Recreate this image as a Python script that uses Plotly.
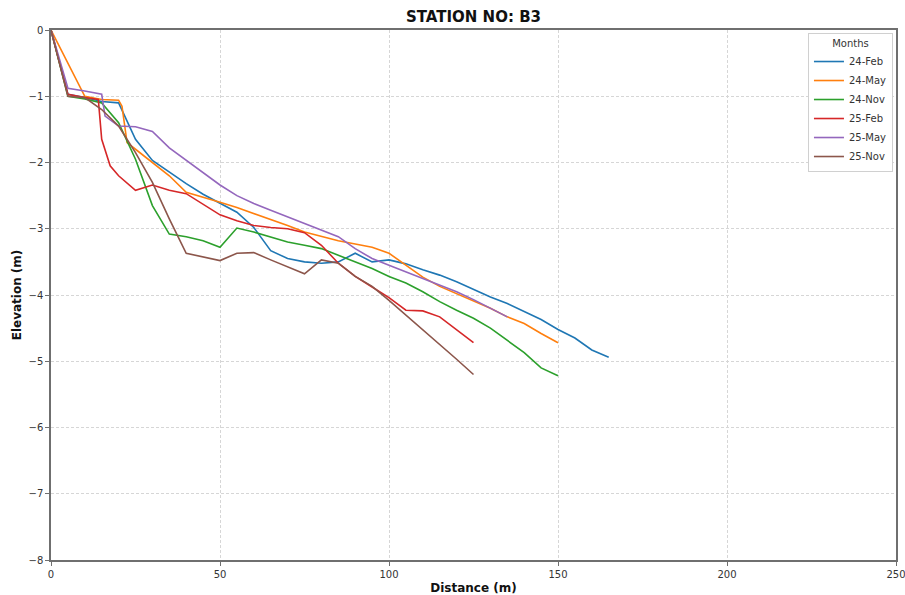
import plotly.graph_objects as go

# ---- data ----
feb24_x = [0, 5, 10, 15, 20, 25, 30, 35, 40, 45, 50, 55, 60, 65, 70, 75, 80, 85, 90, 95, 100, 105, 110, 115, 120, 125, 130, 135, 140, 145, 150, 155, 160, 165]
feb24_y = [0, -0.97, -1.02, -1.08, -1.1, -1.65, -1.97, -2.15, -2.32, -2.48, -2.62, -2.75, -2.98, -3.33, -3.45, -3.5, -3.52, -3.5, -3.37, -3.5, -3.47, -3.53, -3.62, -3.7, -3.8, -3.92, -4.03, -4.13, -4.25, -4.37, -4.52, -4.65, -4.83, -4.94]

may24_x = [0, 5, 10, 15, 20, 21, 22.5, 25, 30, 35, 40, 45, 50, 55, 60, 65, 70, 75, 80, 85, 90, 95, 100, 105, 110, 115, 120, 125, 130, 135, 140, 145, 150]
may24_y = [0, -0.5, -1.0, -1.05, -1.06, -1.15, -1.7, -1.8, -2.0, -2.2, -2.45, -2.52, -2.6, -2.68, -2.77, -2.85, -2.95, -3.05, -3.12, -3.18, -3.23, -3.28, -3.37, -3.55, -3.73, -3.87, -3.98, -4.08, -4.2, -4.33, -4.43, -4.58, -4.72]

nov24_x = [0, 5, 10, 15, 20, 25, 30, 35, 40, 45, 50, 55, 60, 65, 70, 75, 80, 85, 90, 95, 100, 105, 110, 115, 120, 125, 130, 135, 140, 145, 150]
nov24_y = [0, -1.0, -1.04, -1.1, -1.4, -1.95, -2.65, -3.08, -3.12, -3.18, -3.28, -2.99, -3.05, -3.12, -3.2, -3.25, -3.3, -3.4, -3.5, -3.6, -3.72, -3.82, -3.95, -4.1, -4.23, -4.35, -4.5, -4.68, -4.87, -5.1, -5.22]

feb25_x = [0, 5, 10, 14, 15, 17.5, 20, 25, 30, 35, 40, 45, 50, 55, 60, 65, 70, 75, 80, 85, 90, 95, 100, 105, 110, 115, 120, 125]
feb25_y = [0, -0.97, -1.02, -1.05, -1.65, -2.05, -2.2, -2.42, -2.34, -2.42, -2.47, -2.63, -2.79, -2.88, -2.95, -2.98, -3.0, -3.06, -3.25, -3.52, -3.72, -3.88, -4.04, -4.23, -4.24, -4.33, -4.52, -4.72]

may25_x = [0, 5, 10, 15, 16, 20, 25, 30, 35, 40, 45, 50, 55, 60, 65, 70, 75, 80, 85, 90, 95, 100, 105, 110, 115, 120, 125, 130, 135]
may25_y = [0, -0.88, -0.92, -0.97, -1.3, -1.45, -1.46, -1.53, -1.78, -1.97, -2.15, -2.34, -2.5, -2.62, -2.72, -2.82, -2.93, -3.02, -3.12, -3.3, -3.45, -3.55, -3.65, -3.75, -3.85, -3.95, -4.07, -4.2, -4.33]

nov25_x = [0, 5, 10, 15, 20, 25, 30, 35, 40, 45, 50, 55, 60, 65, 70, 75, 80, 85, 90, 95, 100, 105, 110, 115, 120, 125]
nov25_y = [0, -1.0, -1.02, -1.2, -1.45, -1.85, -2.3, -2.85, -3.37, -3.42, -3.48, -3.37, -3.36, -3.47, -3.58, -3.68, -3.47, -3.52, -3.72, -3.87, -4.08, -4.3, -4.52, -4.75, -4.97, -5.2]

series_names = ["24-Feb", "24-May", "24-Nov", "25-Feb", "25-May", "25-Nov"]
series_x = [feb24_x, may24_x, nov24_x, feb25_x, may25_x, nov25_x]
series_y = [feb24_y, may24_y, nov24_y, feb25_y, may25_y, nov25_y]
colors = ["#1f77b4", "#ff7f0e", "#2ca02c", "#d62728", "#9467bd", "#8c564b"]

x_ticks = [0, 50, 100, 150, 200, 250]
y_ticks = [0, -1, -2, -3, -4, -5, -6, -7, -8]

fig = go.Figure()
for name, xs, ys, c in zip(series_names, series_x, series_y, colors):
    fig.add_trace(go.Scatter(x=xs, y=ys, mode="lines", name=name,
                             line=dict(color=c, width=1.6)))

axis_common = dict(
    showline=True, mirror=True, linecolor="#6f6f6f", linewidth=1.5,
    showgrid=True, gridcolor="#d6d6d6", griddash="3px,2px", gridwidth=1,
    ticks="outside", ticklen=4, tickcolor="#6f6f6f",
    zeroline=False, tickfont=dict(size=10, color="#333333"),
    ticklabeloverflow="allow",
)

fig.update_layout(
    width=905, height=595,
    margin=dict(l=51, r=9, t=30, b=35),
    paper_bgcolor="white", plot_bgcolor="white",
    font=dict(family="DejaVu Sans", color="#222222"),
    title=dict(text="<b>STATION NO: B3</b>", x=(51 + 896) / 2 / 905, xanchor="center",
               y=1 - 17 / 595, yanchor="middle", font=dict(size=15, color="#111111")),
    showlegend=True,
    legend=dict(
        x=0.9964, y=0.9943, xanchor="right", yanchor="top",
        bgcolor="white", bordercolor="#d0d0d0", borderwidth=1,
        font=dict(size=10, color="#333333"),
        title=dict(text="Months", side="top center", font=dict(size=10, color="#333333")),
        tracegroupgap=0, itemwidth=30,
    ),
)
fig.update_xaxes(range=[0, 250], tickvals=x_ticks, automargin=False,
                 title=dict(text="<b>Distance (m)</b>", font=dict(size=12, color="#111111"), standoff=6),
                 **axis_common)
fig.update_yaxes(range=[-8, 0], tickvals=y_ticks, automargin=False,
                 title=dict(text="<b>Elevation (m)</b>", font=dict(size=12, color="#111111"), standoff=4),
                 **axis_common)

fig.write_html("out.html", config={"displayModeBar": False},
               post_script="document.body.style.margin='0';document.body.style.overflow='hidden';")
